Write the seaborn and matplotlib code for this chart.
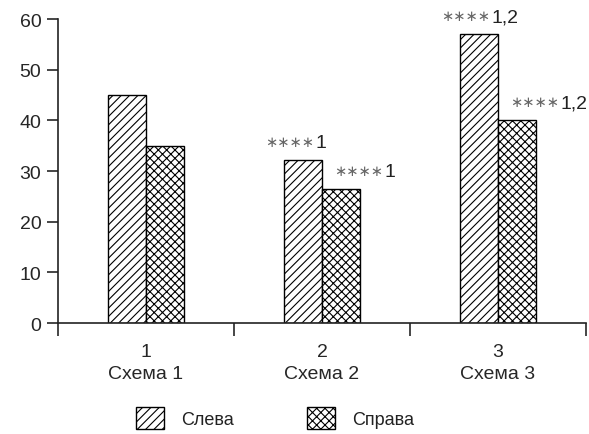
import matplotlib
matplotlib.use("Agg")
import matplotlib.pyplot as plt
from matplotlib.patches import Patch
import pandas as pd
import seaborn as sns

schemes = ["1\nСхема 1", "2\nСхема 2", "3\nСхема 3"]
sides = ["Слева", "Справа"]
left_vals = [45, 32.2, 57]
right_vals = [35, 26.4, 40]
left_marks = ["", "1", "1,2"]
right_marks = ["", "1", "1,2"]
stars = "∗∗∗∗"
hatches = ["////", "xxxx"]

df = pd.DataFrame({
    "scheme": schemes * 2,
    "side": [sides[0]] * 3 + [sides[1]] * 3,
    "value": left_vals + right_vals,
})

sns.set_style("ticks")
plt.rcParams["font.family"] = ["Liberation Sans", "DejaVu Sans"]
plt.rcParams["hatch.linewidth"] = 0.8
plt.rcParams["axes.edgecolor"] = "#222222"
plt.rcParams["text.color"] = "#222222"

fig = plt.figure(figsize=(5.89, 4.35), dpi=100)
ax = fig.add_axes([0.0985, 0.255, 0.8965, 0.699])

sns.barplot(data=df, x="scheme", y="value", hue="side", hue_order=sides,
            palette=["white", "white"], saturation=1, edgecolor="black",
            linewidth=1, width=0.43, legend=False, ax=ax)

for cont, h in zip(ax.containers, hatches):
    for bar in cont:
        bar.set_hatch(h)


def mark(bar, text, dx):
    # small grey stars, then the group numbers right after them
    if not text:
        return
    st = ax.annotate(stars, (bar.get_x(), bar.get_height()),
                     xytext=(dx, 13.5), textcoords="offset points",
                     ha="left", va="center", fontsize=10.5,
                     family="DejaVu Sans", color="#666666",
                     annotation_clip=False)
    ax.annotate(text, (1, bar.get_height()), xycoords=(st, "data"),
                xytext=(1, 9.5), textcoords="offset points",
                ha="left", va="baseline", fontsize=14,
                annotation_clip=False)


for bar, m in zip(ax.containers[0], left_marks):
    mark(bar, m, -13.5)
for bar, m in zip(ax.containers[1], right_marks):
    mark(bar, m, 8.5)

ax.set_xlim(-0.5, 2.5)
ax.set_ylim(0, 60)
ax.set_yticks(range(0, 61, 10))
ax.set_xlabel("")
ax.set_ylabel("")
sns.despine(ax=ax)
for s in ["left", "bottom"]:
    ax.spines[s].set_linewidth(1.2)

ax.set_xticks([-0.5, 0.5, 1.5, 2.5], minor=True)
ax.tick_params(axis="x", which="major", length=0, pad=14, labelsize=14)
ax.tick_params(axis="x", which="minor", length=9, width=1.2)
ax.tick_params(axis="y", length=8, width=1.2, labelsize=14, pad=4)
for t in ax.get_xticklabels():
    t.set_linespacing(1.4)

handles = [Patch(facecolor="white", edgecolor="black", hatch=h) for h in hatches]
fig.legend(handles, sides, loc="center", bbox_to_anchor=(0.467, 0.037), ncol=2,
           frameon=False, handlelength=1.55, handleheight=1.5,
           handletextpad=0.95, columnspacing=4.0, fontsize=13)

fig.savefig("out.png", dpi=100)
